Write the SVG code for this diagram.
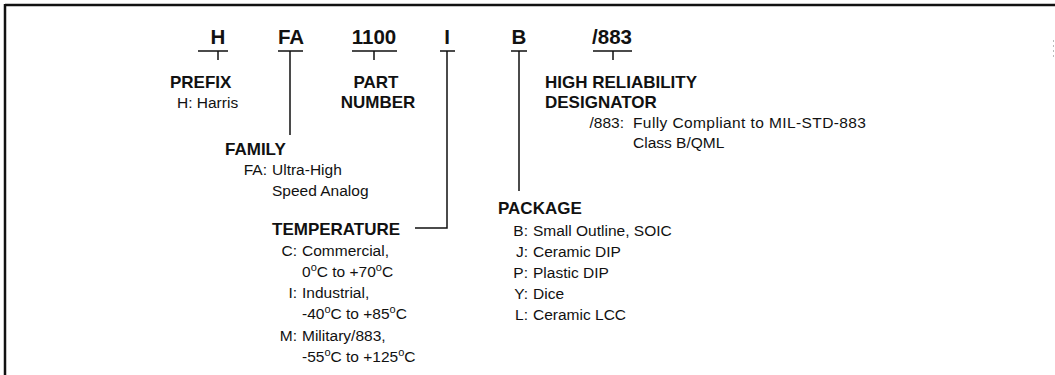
<svg xmlns="http://www.w3.org/2000/svg" width="1055" height="375" viewBox="0 0 1055 375">
<style>
.code{font-family:"Liberation Sans",Arial,sans-serif;font-weight:bold;font-size:20.5px;fill:#111;text-anchor:middle}
.lbl{font-family:"Liberation Sans",Arial,sans-serif;font-weight:bold;font-size:17px;fill:#111}
.val{font-family:"Liberation Sans",Arial,sans-serif;font-size:15.5px;fill:#111}
.key{font-family:"Liberation Sans",Arial,sans-serif;font-size:15.5px;fill:#111;text-anchor:end}
.sup{font-size:11px}
.ln{stroke:#111;stroke-width:1.5;fill:none}
</style>
<rect width="1055" height="375" fill="#fff"/>
<g id="frame">
<line x1="5" y1="5" x2="1055" y2="5" stroke="#111" stroke-width="2.5"/>
<line x1="5" y1="4" x2="5" y2="375" stroke="#111" stroke-width="2.5"/>
<line x1="1053.5" y1="40" x2="1053.5" y2="60" stroke="#bbb" stroke-width="1" stroke-dasharray="2 3"/>
</g>
<g id="connectors">
<path class="ln" d="M198 51H228M218 51V60"/>
<path class="ln" d="M278 51H303M290 51V135"/>
<path class="ln" d="M352 51H397M374 51V60"/>
<path class="ln" d="M440 51H455M447 51V228H415"/>
<path class="ln" d="M511 51H527M519 51V191"/>
<path class="ln" d="M593 51H632M613 51V60"/>
</g>
<g id="codes">
<text class="code" x="218" y="44">H</text>
<text class="code" x="291" y="44">FA</text>
<text class="code" x="374" y="44">1100</text>
<text class="code" x="447" y="44">I</text>
<text class="code" x="519" y="44">B</text>
<text class="code" x="612" y="44">/883</text>
</g>
<g id="prefix">
<text class="lbl" x="170" y="88">PREFIX</text>
<text class="val" x="177" y="108">H:  Harris</text>
</g>
<g id="part-number">
<text class="lbl" x="376" y="88" text-anchor="middle">PART</text>
<text class="lbl" x="378" y="108" text-anchor="middle">NUMBER</text>
</g>
<g id="family">
<text class="lbl" x="225" y="155">FAMILY</text>
<text class="key" x="267" y="175">FA:</text>
<text class="val" x="272" y="175">Ultra-High</text>
<text class="val" x="272" y="196">Speed Analog</text>
</g>
<g id="temperature">
<text class="lbl" x="272" y="235">TEMPERATURE</text>
<text class="key" x="297" y="256">C:</text>
<text class="val" x="302" y="256">Commercial,</text>
<text class="val" x="302" y="277">0<tspan class="sup" dy="-6">o</tspan><tspan dy="6">C to +70</tspan><tspan class="sup" dy="-6">o</tspan><tspan dy="6">C</tspan></text>
<text class="key" x="297" y="298">I:</text>
<text class="val" x="302" y="298">Industrial,</text>
<text class="val" x="302" y="319">-40<tspan class="sup" dy="-6">o</tspan><tspan dy="6">C to +85</tspan><tspan class="sup" dy="-6">o</tspan><tspan dy="6">C</tspan></text>
<text class="key" x="297" y="341">M:</text>
<text class="val" x="302" y="341">Military/883,</text>
<text class="val" x="302" y="362">-55<tspan class="sup" dy="-6">o</tspan><tspan dy="6">C to +125</tspan><tspan class="sup" dy="-6">o</tspan><tspan dy="6">C</tspan></text>
</g>
<g id="package">
<text class="lbl" x="498" y="214">PACKAGE</text>
<text class="key" x="528" y="236">B:</text>
<text class="val" x="533" y="236">Small Outline, SOIC</text>
<text class="key" x="528" y="257">J:</text>
<text class="val" x="533" y="257">Ceramic DIP</text>
<text class="key" x="528" y="278">P:</text>
<text class="val" x="533" y="278">Plastic DIP</text>
<text class="key" x="528" y="299">Y:</text>
<text class="val" x="533" y="299">Dice</text>
<text class="key" x="528" y="320">L:</text>
<text class="val" x="533" y="320">Ceramic LCC</text>
</g>
<g id="high-reliability">
<text class="lbl" x="545" y="88">HIGH RELIABILITY</text>
<text class="lbl" x="545" y="108">DESIGNATOR</text>
<text class="key" x="624" y="128">/883:</text>
<text class="val" x="633" y="128" letter-spacing="0.4">Fully Compliant to MIL-STD-883</text>
<text class="val" x="633" y="148">Class B/QML</text>
</g>
</svg>
